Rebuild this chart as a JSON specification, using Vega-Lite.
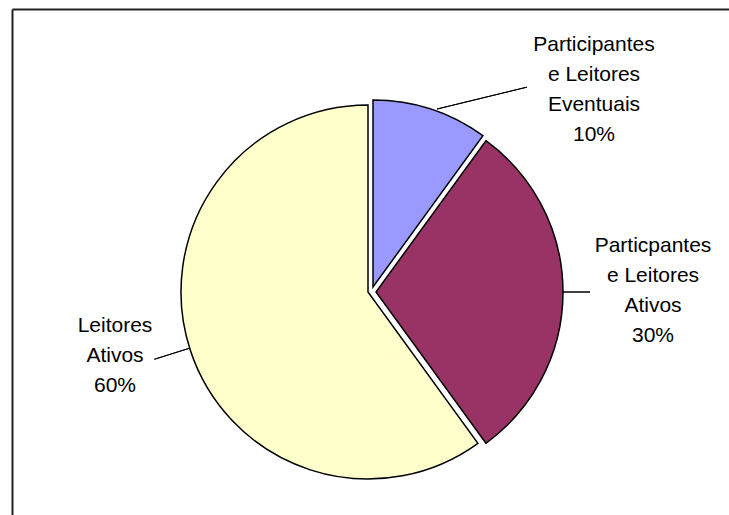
{
  "$schema": "https://vega.github.io/schema/vega-lite/v6.json",
  "width": 718,
  "height": 507,
  "autosize": "none",
  "padding": {"left": 12, "top": 9, "right": -1, "bottom": -1},
  "background": "white",
  "view": {"stroke": null},
  "data": {
    "values": [
      {"categoria": "Participantes e Leitores Eventuais", "rotulo": "Participantes\ne Leitores\nEventuais\n10%", "pct": 10, "ordem": 1},
      {"categoria": "Particpantes e Leitores Ativos", "rotulo": "Particpantes\ne Leitores\nAtivos\n30%", "pct": 30, "ordem": 2},
      {"categoria": "Leitores Ativos", "rotulo": "Leitores\nAtivos\n60%", "pct": 60, "ordem": 3}
    ]
  },
  "transform": [
    {"stack": "pct", "groupby": [], "sort": [{"field": "ordem"}], "as": ["ini", "fim"]}
  ],
  "layer": [
    {
      "mark": {"type": "point", "opacity": 0},
      "encoding": {
        "x": {"field": "pct", "type": "quantitative", "scale": {"domain": [0, 100]},
          "axis": {"orient": "top", "title": null, "labels": false, "ticks": false, "grid": false, "domain": true, "domainColor": "#222222", "domainWidth": 2}},
        "y": {"field": "ordem", "type": "quantitative", "scale": {"domain": [0, 4]},
          "axis": {"orient": "left", "title": null, "labels": false, "ticks": false, "grid": false, "domain": true, "domainColor": "#222222", "domainWidth": 2}}
      }
    },
    {
      "transform": [{"filter": "datum.ordem == 3"}],
      "mark": {"type": "arc", "outerRadius": 187, "xOffset": -3, "yOffset": 29.5, "stroke": "#000000", "strokeWidth": 1.5},
      "encoding": {
        "theta": {"field": "ini", "type": "quantitative", "stack": null, "scale": {"domain": [0, 100]}},
        "theta2": {"field": "fim"},
        "color": {"field": "categoria", "type": "nominal", "legend": null,
          "scale": {"domain": ["Participantes e Leitores Eventuais", "Particpantes e Leitores Ativos", "Leitores Ativos"], "range": ["#9999FF", "#993366", "#FFFFCC"]}}
      }
    },
    {
      "transform": [{"filter": "datum.ordem == 2"}],
      "mark": {"type": "arc", "outerRadius": 187, "xOffset": 5, "yOffset": 29.5, "stroke": "#000000", "strokeWidth": 1.5},
      "encoding": {
        "theta": {"field": "ini", "type": "quantitative", "stack": null, "scale": {"domain": [0, 100]}},
        "theta2": {"field": "fim"},
        "color": {"field": "categoria", "type": "nominal", "legend": null}
      }
    },
    {
      "transform": [{"filter": "datum.ordem == 1"}],
      "mark": {"type": "arc", "outerRadius": 187, "xOffset": 2, "yOffset": 24.5, "stroke": "#000000", "strokeWidth": 1.5},
      "encoding": {
        "theta": {"field": "ini", "type": "quantitative", "stack": null, "scale": {"domain": [0, 100]}},
        "theta2": {"field": "fim"},
        "color": {"field": "categoria", "type": "nominal", "legend": null}
      }
    },
    {
      "transform": [{"filter": "datum.ordem == 1"}],
      "mark": {"type": "arc", "innerRadius": 100, "outerRadius": 192.6, "thetaOffset": 1.332, "theta2Offset": 1.332, "xOffset": -31.2, "yOffset": -129.8, "fill": null, "stroke": "#000000", "strokeWidth": 1},
      "encoding": {
        "theta": {"field": "ini", "type": "quantitative", "stack": null, "scale": {"domain": [0, 100]}},
        "theta2": {"field": "ini"}
      }
    },
    {
      "transform": [{"filter": "datum.ordem == 2"}],
      "mark": {"type": "arc", "innerRadius": 187, "outerRadius": 214, "thetaOffset": 0.9425, "theta2Offset": 0.9425, "xOffset": 5, "yOffset": 29.5, "fill": null, "stroke": "#000000", "strokeWidth": 1},
      "encoding": {
        "theta": {"field": "ini", "type": "quantitative", "stack": null, "scale": {"domain": [0, 100]}},
        "theta2": {"field": "ini"}
      }
    },
    {
      "transform": [{"filter": "datum.ordem == 3"}],
      "mark": {"type": "arc", "innerRadius": 188, "outerRadius": 224, "thetaOffset": 1.894, "theta2Offset": 1.894, "xOffset": -3, "yOffset": 29.5, "fill": null, "stroke": "#000000", "strokeWidth": 1},
      "encoding": {
        "theta": {"field": "ini", "type": "quantitative", "stack": null, "scale": {"domain": [0, 100]}},
        "theta2": {"field": "ini"}
      }
    },
    {
      "transform": [{"filter": "datum.ordem == 1"}],
      "mark": {"type": "text", "dx": 223, "dy": -217.5, "align": "center", "baseline": "middle", "lineBreak": "\n", "lineHeight": 30, "font": "Liberation Sans", "fontSize": 21, "color": "#000000"},
      "encoding": {"text": {"field": "rotulo", "type": "nominal"}}
    },
    {
      "transform": [{"filter": "datum.ordem == 2"}],
      "mark": {"type": "text", "dx": 282, "dy": -16.5, "align": "center", "baseline": "middle", "lineBreak": "\n", "lineHeight": 30, "font": "Liberation Sans", "fontSize": 21, "color": "#000000"},
      "encoding": {"text": {"field": "rotulo", "type": "nominal"}}
    },
    {
      "transform": [{"filter": "datum.ordem == 3"}],
      "mark": {"type": "text", "dx": -256, "dy": 63.5, "align": "center", "baseline": "middle", "lineBreak": "\n", "lineHeight": 30, "font": "Liberation Sans", "fontSize": 21, "color": "#000000"},
      "encoding": {"text": {"field": "rotulo", "type": "nominal"}}
    }
  ]
}
